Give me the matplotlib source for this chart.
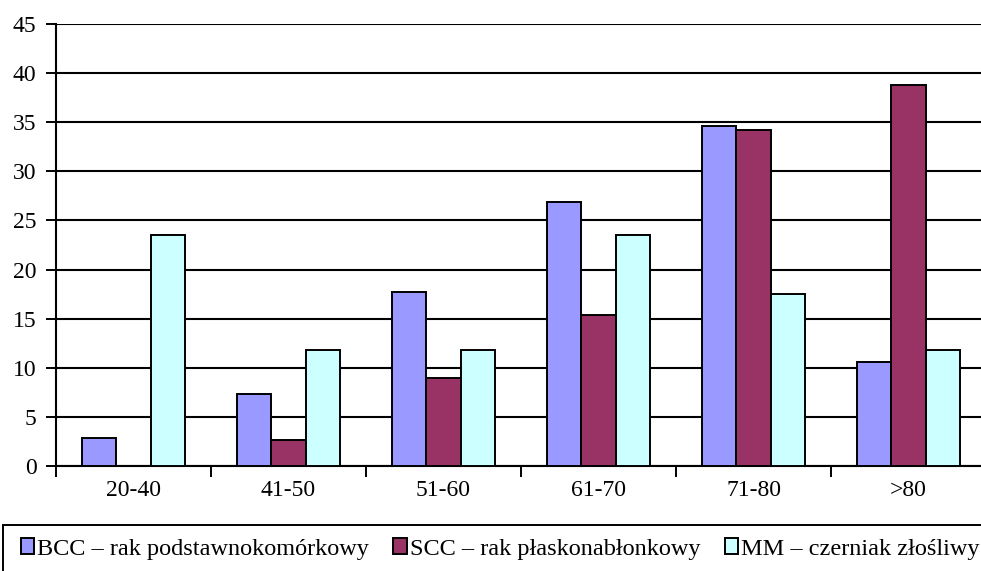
import numpy as np
import matplotlib
matplotlib.use("Agg")
import matplotlib.pyplot as plt
from matplotlib.patches import Rectangle, Patch

plt.rcParams['font.family'] = ['Liberation Serif', 'DejaVu Serif']
plt.rcParams['font.size'] = 17

# grupy wiekowe i odsetki dla poszczególnych nowotworów
age_groups = ['20-40', '41-50', '51-60', '61-70', '71-80', '>80']
bcc = [2.8, 7.3, 17.7, 26.9, 34.6, 10.6]
scc = [0.0, 2.6, 9.0, 15.4, 34.2, 38.8]
mm = [23.5, 11.8, 11.8, 23.5, 17.5, 11.8]
series_names = ['BCC – rak podstawnokomórkowy',
                'SCC – rak płaskonabłonkowy',
                'MM – czerniak złośliwy']
series_colors = ['#9999FF', '#993366', '#CCFFFF']

W, H = 981, 571
fig = plt.figure(figsize=(W / 100, H / 100), dpi=100)
ax = fig.add_axes([56 / W, (H - 466) / H, 930 / W, 442 / H])

x = np.arange(len(age_groups))
bw = 1 / 4.5
for i, (vals, col) in enumerate(zip([bcc, scc, mm], series_colors)):
    vals = np.array(vals)
    mask = vals > 0
    ax.bar(x[mask] + (i - 1) * bw, vals[mask], width=bw, color=col,
           edgecolor='black', linewidth=1.4, zorder=3)

ax.set_xlim(-0.5, 5.5)
ax.set_ylim(0, 45)
ax.set_yticks(np.arange(0, 46, 5))
ax.yaxis.grid(True, color='black', linewidth=1.5, zorder=0)
ax.set_axisbelow(True)

ax.set_xticks(x)
ax.set_xticklabels(age_groups)
ax.set_xticks(np.arange(-0.5, 6, 1), minor=True)
ax.tick_params(axis='x', which='major', length=0, pad=10)
ax.tick_params(axis='x', which='minor', length=8, width=1.4, direction='out')
ax.tick_params(axis='y', length=7, width=1.4, direction='out', pad=7)

for s in ['top', 'right']:
    ax.spines[s].set_visible(False)
for s in ['left', 'bottom']:
    ax.spines[s].set_linewidth(1.5)

# ramka legendy wychodzi poza dolną i prawą krawędź
fig.patches.append(Rectangle((3 / W, -0.1), 1.1, (H - 525) / H + 0.1,
                             transform=fig.transFigure, fill=False,
                             edgecolor='black', linewidth=1.4, clip_on=False))

handles = [Patch(facecolor=c, edgecolor='black', linewidth=1.4) for c in series_colors]
fig.legend(handles, series_names, ncol=3, frameon=False, fontsize=17.5,
           loc='center left', bbox_to_anchor=(21 / W, (H - 549) / H),
           handlelength=0.55, handleheight=0.65, handletextpad=0.12,
           columnspacing=1.0, borderaxespad=0, borderpad=0)

fig.savefig('out.png', dpi=100)
